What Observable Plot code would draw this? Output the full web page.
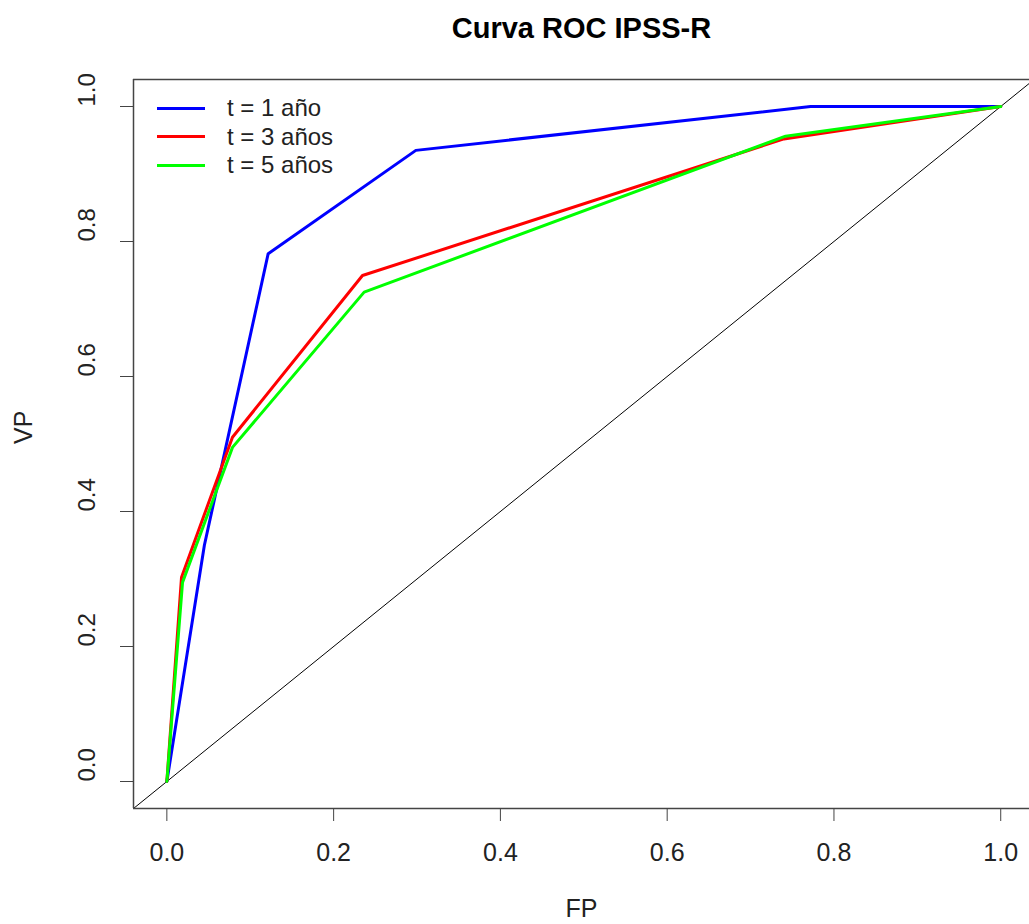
<!DOCTYPE html>
<html>
<head>
<meta charset="utf-8">
<script src="https://cdn.jsdelivr.net/npm/d3@7"></script>
<script src="https://cdn.jsdelivr.net/npm/@observablehq/plot@0.6"></script>
<style>
  body { margin: 0; background: #fff; }
  #wrap { position: relative; width: 1029px; height: 924px; font-family: "Liberation Sans", Arial, sans-serif; }
  #legend { position: absolute; left: 157px; top: 93.75px; }
  .item { display: flex; align-items: center; height: 28.5px; font-size: 24px; color: #222; }
  .sw { width: 48px; height: 3px; margin-right: 22px; }
</style>
</head>
<body>
<div id="wrap"></div>
<script>
const title = "Curva ROC IPSS-R";
const xLabel = "FP";
const yLabel = "VP";
const seriesNames = ["t = 1 año", "t = 3 años", "t = 5 años"];
const seriesColors = ["#0000FF", "#FF0000", "#00FF00"];

const fp1 = [0, 0.045, 0.1215, 0.2986, 0.772, 1];
const vp1 = [0, 0.35, 0.782, 0.935, 1.0, 1.0];
const fp3 = [0, 0.0176, 0.0787, 0.2346, 0.740, 1];
const vp3 = [0, 0.3027, 0.51, 0.7496, 0.952, 1];
const fp5 = [0, 0.0188, 0.0787, 0.2366, 0.742, 1];
const vp5 = [0, 0.295, 0.495, 0.725, 0.956, 1];

const xTicks = [0, 0.2, 0.4, 0.6, 0.8, 1.0];
const yTicks = [0, 0.2, 0.4, 0.6, 0.8, 1.0];
const diagonal = [-0.1, 1.1];
const xDomain = [-0.04, 1.0345];
const yDomain = [-0.04, 1.04];

const toRows = (fp, vp, s) => fp.map((f, i) => ({fp: f, vp: vp[i], s}));
const series = [toRows(fp1, vp1, 0), toRows(fp3, vp3, 1), toRows(fp5, vp5, 2)];
const fmt = d3.format(".1f");

const chart = Plot.plot({
  width: 1029,
  height: 924,
  marginLeft: 133,
  marginRight: 0,
  marginTop: 79,
  marginBottom: 116,
  style: {fontFamily: "Liberation Sans, Arial, sans-serif", color: "#222", background: "#fff", overflow: "visible"},
  x: {domain: xDomain},
  y: {domain: yDomain},
  marks: [
    Plot.line(diagonal, {x: d => d, y: d => d, stroke: "#000", strokeWidth: 1, clip: true}),
    ...series.map((rows, i) => Plot.line(rows, {x: "fp", y: "vp", stroke: seriesColors[i], strokeWidth: 3, clip: true})),
    Plot.ruleY([yDomain[0], yDomain[1]], {stroke: "#444", strokeWidth: 1.5}),
    Plot.ruleX([xDomain[0]], {stroke: "#444", strokeWidth: 1.5}),
    Plot.axisX({ticks: xTicks, tickSize: 13, tickPadding: 22, fontSize: 25, tickFormat: fmt, label: null, stroke: "#444"}),
    Plot.axisY({ticks: yTicks, tickSize: 13, tickFormat: () => "", label: null, stroke: "#444"}),
    Plot.text(yTicks, {y: d => d, text: d => fmt(d), frameAnchor: "left", dx: -46.5, rotate: -90, fontSize: 24, fill: "#222"}),
    Plot.text([xLabel], {text: d => d, frameAnchor: "bottom", lineAnchor: "middle", dy: 100, fontSize: 25, fill: "#222"}),
    Plot.text([yLabel], {text: d => d, frameAnchor: "left", lineAnchor: "middle", dx: -110, rotate: -90, fontSize: 25, fill: "#222"}),
    Plot.text([title], {text: d => d, frameAnchor: "top", lineAnchor: "middle", dy: -51, fontSize: 29, fontWeight: "bold", fill: "#000"})
  ]
});

const wrap = document.getElementById("wrap");
wrap.appendChild(chart);
const legend = document.createElement("div");
legend.id = "legend";
seriesNames.forEach((name, i) => {
  const item = document.createElement("div");
  item.className = "item";
  const sw = document.createElement("span");
  sw.className = "sw";
  sw.style.background = seriesColors[i];
  const tx = document.createElement("span");
  tx.textContent = name;
  item.appendChild(sw);
  item.appendChild(tx);
  legend.appendChild(item);
});
wrap.appendChild(legend);
</script>
</body>
</html>
